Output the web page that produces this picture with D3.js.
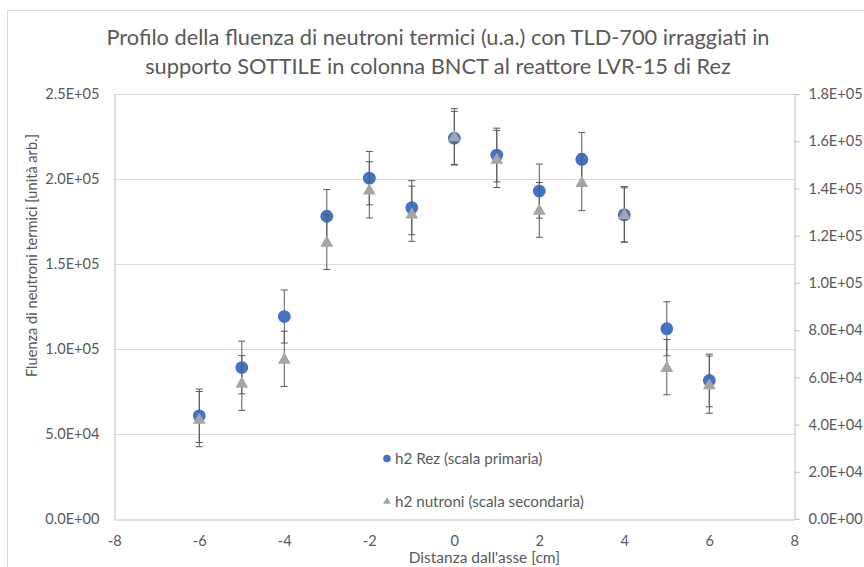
<!DOCTYPE html>
<html>
<head>
<meta charset="utf-8">
<script src="https://cdn.jsdelivr.net/npm/d3@7/dist/d3.min.js"></script>
<style>
  html, body { margin: 0; padding: 0; background: #fff; }
  svg { display: block; font-family: Lato, "Open Sans", sans-serif; }
</style>
</head>
<body>
<svg id="chart" width="864" height="567"></svg>
<script>
// Distance from the axis (cm)
const positions = [-6, -5, -4, -3, -2, -1, 0, 1, 2, 3, 4, 5, 6];
// h2 Rez, primary scale
const rezValues = [6.07e4, 8.91e4, 1.191e5, 1.781e5, 2.005e5, 1.831e5, 2.24e5, 2.141e5, 1.929e5, 2.115e5, 1.789e5, 1.119e5, 8.15e4];
const rezErrors = [1.57e4, 1.55e4, 1.56e4, 1.57e4, 1.57e4, 1.59e4, 1.58e4, 1.58e4, 1.59e4, 1.59e4, 1.59e4, 1.59e4, 1.55e4];
// h2 nutroni, secondary scale
const neutronValues = [4.23e4, 5.76e4, 6.78e4, 1.173e5, 1.394e5, 1.293e5, 1.62e5, 1.525e5, 1.309e5, 1.426e5, 1.29e5, 6.43e4, 5.69e4];
const neutronErrors = [1.17e4, 1.16e4, 1.17e4, 1.16e4, 1.19e4, 1.17e4, 1.18e4, 1.21e4, 1.16e4, 1.2e4, 1.18e4, 1.17e4, 1.21e4];

const xTicks = [-8, -6, -4, -2, 0, 2, 4, 6, 8];
const yLeftTicks = [0, 5e4, 1e5, 1.5e5, 2e5, 2.5e5];
const yRightTicks = [0, 2e4, 4e4, 6e4, 8e4, 1e5, 1.2e5, 1.4e5, 1.6e5, 1.8e5];

const titleLines = [
  "Profilo della fluenza di neutroni termici (u.a.) con TLD-700 irraggiati in",
  "supporto SOTTILE in colonna BNCT al reattore LVR-15 di Rez"
];
const xTitle = "Distanza dall'asse [cm]";
const yTitle = "Fluenza di neutroni termici [unità arb.]";
const legendLabels = ["h2 Rez (scala primaria)", "h2 nutroni (scala secondaria)"];

const textColor = "#595959";
const blue = "#4472C4";
const grey = "#A5A5A5";
const errColor = "#595959";

const svg = d3.select("#chart");
const plot = { left: 114.3, right: 794.3, top: 94, bottom: 519 };

const x = d3.scaleLinear().domain([-8, 8]).range([plot.left, plot.right]);
const yL = d3.scaleLinear().domain([0, 2.5e5]).range([plot.bottom, plot.top]);
const yR = d3.scaleLinear().domain([0, 1.8e5]).range([plot.bottom, plot.top]);
const fmt = v => {
  if (v === 0) return "0.0E+00";
  const e = Math.floor(Math.log10(Math.abs(v)) + 1e-9);
  const m = v / Math.pow(10, e);
  return m.toFixed(1) + "E+" + String(e).padStart(2, "0");
};

// chart frame
svg.append("path")
  .attr("d", "M7.5,567 V10.5 H864")
  .attr("fill", "none").attr("stroke", "#d9d9d9").attr("stroke-width", 1);

// title
svg.append("g").selectAll("text").data(titleLines).join("text")
  .attr("x", 438).attr("y", (d, i) => 45 + i * 29)
  .attr("text-anchor", "middle")
  .attr("fill", textColor).attr("font-size", 21.8)
  .text(d => d);

// gridlines
svg.append("g").selectAll("line").data(yLeftTicks.slice(1)).join("line")
  .attr("x1", plot.left).attr("x2", plot.right)
  .attr("y1", d => Math.round(yL(d)) + 0.5).attr("y2", d => Math.round(yL(d)) + 0.5)
  .attr("stroke", "#d9d9d9").attr("stroke-width", 1);

const tickFont = 14.6;

// left axis
const axL = svg.append("g").attr("transform", `translate(${Math.round(plot.left) + 0.5},0)`)
  .call(d3.axisLeft(yL).tickValues(yLeftTicks).tickFormat(fmt).tickSize(0).tickPadding(15));
axL.select(".domain").attr("stroke", "#bfbfbf");
axL.selectAll("text").attr("fill", textColor).attr("font-size", tickFont).attr("font-family", "Lato");

// right axis
const axR = svg.append("g").attr("transform", `translate(${Math.round(plot.right) + 0.5},0)`)
  .call(d3.axisRight(yR).tickValues(yRightTicks).tickFormat(fmt).tickSize(5).tickSizeOuter(5).tickPadding(9));
axR.select(".domain").attr("stroke", "#bfbfbf");
axR.selectAll("line").attr("stroke", "#bfbfbf");
axR.selectAll("text").attr("fill", textColor).attr("font-size", tickFont).attr("font-family", "Lato");

// bottom axis
const axB = svg.append("g").attr("transform", `translate(0,${Math.round(plot.bottom) + 0.5})`)
  .call(d3.axisBottom(x).tickValues(xTicks).tickFormat(d3.format("d")).tickSize(0).tickPadding(16));
axB.select(".domain").attr("stroke", "#bfbfbf");
axB.selectAll("text").attr("fill", textColor).attr("font-size", tickFont).attr("font-family", "Lato")
  .text(d => d < 0 ? "-" + Math.abs(d) : d);

// axis titles
svg.append("text")
  .attr("x", x(0) + 30).attr("y", 563)
  .attr("text-anchor", "middle").attr("fill", textColor).attr("font-size", 15.5)
  .text(xTitle);
svg.append("text")
  .attr("transform", `translate(37,${(plot.top + plot.bottom) / 2 - 51}) rotate(-90)`)
  .attr("text-anchor", "middle").attr("fill", textColor).attr("font-size", 14.6)
  .text(yTitle);

// error bars
function errorBars(g, values, errors, yScale) {
  const cap = 3.5;
  const sel = g.selectAll("g").data(positions.map((p, i) => ({ p, v: values[i], e: errors[i] }))).join("g");
  sel.append("line")
    .attr("x1", d => x(d.p)).attr("x2", d => x(d.p))
    .attr("y1", d => yScale(d.v + d.e)).attr("y2", d => yScale(d.v - d.e));
  sel.append("line")
    .attr("x1", d => x(d.p) - cap).attr("x2", d => x(d.p) + cap)
    .attr("y1", d => yScale(d.v + d.e)).attr("y2", d => yScale(d.v + d.e));
  sel.append("line")
    .attr("x1", d => x(d.p) - cap).attr("x2", d => x(d.p) + cap)
    .attr("y1", d => yScale(d.v - d.e)).attr("y2", d => yScale(d.v - d.e));
  g.selectAll("line").attr("stroke", errColor).attr("stroke-width", 1);
}

const triangle = d3.symbol().type(d3.symbolTriangle).size(72);

// h2 Rez
errorBars(svg.append("g"), rezValues, rezErrors, yL);
svg.append("g").selectAll("circle").data(positions).join("circle")
  .attr("cx", d => x(d)).attr("cy", (d, i) => yL(rezValues[i]))
  .attr("r", 6.4).attr("fill", blue);

// h2 nutroni
errorBars(svg.append("g"), neutronValues, neutronErrors, yR);
svg.append("g").selectAll("path").data(positions).join("path")
  .attr("transform", (d, i) => `translate(${x(d)},${yR(neutronValues[i]) + 1})`)
  .attr("d", triangle).attr("fill", grey);

// legend
const leg = svg.append("g");
leg.append("circle").attr("cx", 387).attr("cy", 458.5).attr("r", 3.8).attr("fill", blue);
leg.append("path").attr("transform", "translate(387,501.5)")
  .attr("d", d3.symbol().type(d3.symbolTriangle).size(26)).attr("fill", grey);
leg.selectAll("text").data(legendLabels).join("text")
  .attr("x", 395).attr("y", (d, i) => 463.5 + i * 43)
  .attr("fill", textColor).attr("font-size", 15.2)
  .text(d => d);
</script>
</body>
</html>
